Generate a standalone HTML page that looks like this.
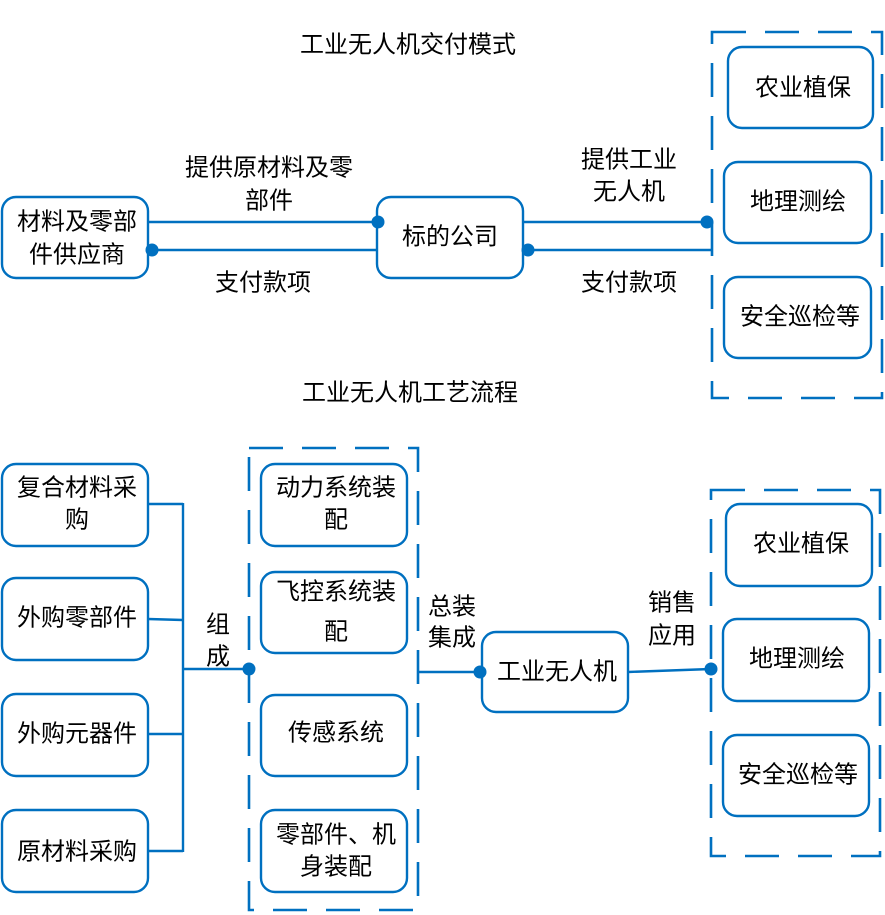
<!DOCTYPE html>
<html><head><meta charset="utf-8"><style>
html,body{margin:0;padding:0;background:#fff;}
svg{display:block;}
text{font-family:"Liberation Sans","Noto Sans CJK SC",sans-serif;font-size:24px;fill:#000;text-anchor:middle;dominant-baseline:central;}
.b{fill:#fff;stroke:#0070C0;stroke-width:2.4;}
.l{stroke:#0070C0;stroke-width:2.4;fill:none;}
.d{fill:none;stroke:#0070C0;stroke-width:2.6;stroke-dasharray:34 19;}
.c{fill:#0070C0;}
</style></head><body>
<svg width="885" height="915" viewBox="0 0 885 915" xmlns="http://www.w3.org/2000/svg">
<!-- Top section -->
<text x="408" y="45">工业无人机交付模式</text>

<rect class="d" x="712" y="32" width="170" height="366"/>

<line class="l" x1="148" y1="222" x2="378" y2="222"/>
<line class="l" x1="152" y1="250" x2="378" y2="250"/>
<line class="l" x1="522" y1="222" x2="707" y2="222"/>
<line class="l" x1="528" y1="250" x2="712" y2="250"/>

<rect class="b" x="2" y="197" width="146" height="81" rx="14"/>
<text x="77" y="222">材料及零部</text>
<text x="77" y="255">件供应商</text>

<rect class="b" x="377" y="197" width="146" height="81" rx="14"/>
<text x="450" y="237">标的公司</text>

<circle class="c" cx="378" cy="222" r="6.5"/>
<circle class="c" cx="152" cy="250" r="6.5"/>
<circle class="c" cx="707" cy="222" r="6.5"/>
<circle class="c" cx="528" cy="250" r="6.5"/>

<text x="269" y="168">提供原材料及零</text>
<text x="269" y="201">部件</text>
<text x="263" y="283">支付款项</text>
<text x="629" y="160">提供工业</text>
<text x="629" y="192">无人机</text>
<text x="629" y="283">支付款项</text>

<rect class="b" x="728" y="47" width="145" height="81" rx="14"/>
<text x="803" y="88">农业植保</text>
<rect class="b" x="724" y="162" width="147" height="81" rx="14"/>
<text x="798" y="202">地理测绘</text>
<rect class="b" x="724" y="277" width="147" height="81" rx="14"/>
<text x="800" y="317">安全巡检等</text>

<!-- Bottom section -->
<text x="410" y="393">工业无人机工艺流程</text>

<rect class="d" x="249" y="448" width="169" height="462"/>
<rect class="d" x="711" y="490" width="169" height="366"/>

<line class="l" x1="148" y1="504" x2="183" y2="504"/>
<line class="l" x1="148" y1="619" x2="183" y2="620"/>
<line class="l" x1="148" y1="734" x2="183" y2="734"/>
<line class="l" x1="148" y1="851" x2="183" y2="851"/>
<line class="l" x1="183" y1="503" x2="183" y2="852"/>
<line class="l" x1="183" y1="669" x2="249" y2="669"/>
<circle class="c" cx="249" cy="669" r="6.5"/>
<text x="218" y="625">组</text>
<text x="218" y="657">成</text>

<rect class="b" x="2" y="464" width="146" height="82" rx="14"/>
<text x="77" y="488">复合材料采</text>
<text x="77" y="520">购</text>
<rect class="b" x="2" y="578" width="146" height="82" rx="14"/>
<text x="77" y="618">外购零部件</text>
<rect class="b" x="2" y="694" width="146" height="82" rx="14"/>
<text x="77" y="734">外购元器件</text>
<rect class="b" x="2" y="810" width="146" height="82" rx="14"/>
<text x="77" y="852">原材料采购</text>

<rect class="b" x="261" y="464" width="146" height="82" rx="14"/>
<text x="336" y="488">动力系统装</text>
<text x="336" y="520">配</text>
<rect class="b" x="261" y="572" width="146" height="81" rx="14"/>
<text x="336" y="592">飞控系统装</text>
<text x="336" y="632">配</text>
<rect class="b" x="261" y="695" width="146" height="81" rx="14"/>
<text x="336" y="733">传感系统</text>
<rect class="b" x="261" y="810" width="146" height="82" rx="14"/>
<text x="336" y="835">零部件、机</text>
<text x="336" y="867">身装配</text>

<line class="l" x1="418" y1="672" x2="480" y2="672"/>
<line class="l" x1="628" y1="672" x2="711" y2="669"/>

<rect class="b" x="482" y="632" width="146" height="80" rx="14"/>
<text x="557" y="672">工业无人机</text>
<circle class="c" cx="480" cy="672" r="6.5"/>
<circle class="c" cx="711" cy="669" r="6.5"/>

<text x="452" y="607">总装</text>
<text x="452" y="638">集成</text>
<text x="672" y="603">销售</text>
<text x="672" y="636">应用</text>

<rect class="b" x="726" y="504" width="146" height="82" rx="14"/>
<text x="801" y="544">农业植保</text>
<rect class="b" x="723" y="619" width="146" height="82" rx="14"/>
<text x="797" y="659">地理测绘</text>
<rect class="b" x="723" y="735" width="146" height="81" rx="14"/>
<text x="798" y="775">安全巡检等</text>
</svg>
</body></html>
